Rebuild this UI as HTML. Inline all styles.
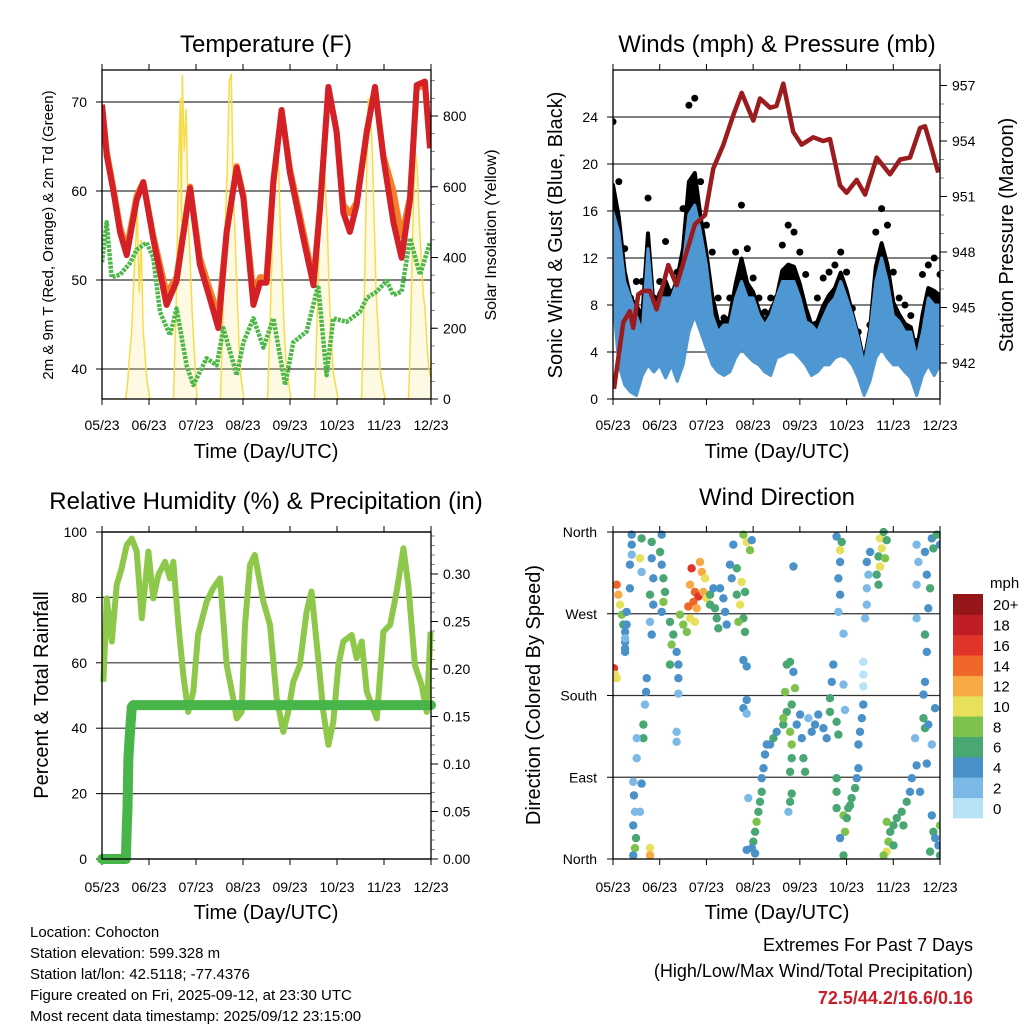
<!DOCTYPE html>
<html><head><meta charset="utf-8">
<style>
body{margin:0;background:#fff;}
svg{display:block;font-family:"Liberation Sans",sans-serif;}
</style></head>
<body>
<svg id="fig" width="1024" height="1024" viewBox="0 0 1024 1024" xmlns="http://www.w3.org/2000/svg"></svg>
<script>
// ---------------- DATA ----------------
const dayLabels = ["05/23","06/23","07/23","08/23","09/23","10/23","11/23","12/23"];
const tempHours = [0,2.4,5.8,9.2,12.6,17.7,21.1,26.2,33,38,45,50,55,59.4,63.7,68.8,72.2,77.3,80.7,84,87.5,91.7,96,102.8,108,111.3,115.6,119.8,123.2,126.6,130,135.2,139.4,143.7,148.8,153,157.3,160.7,164.9,167.5];
const temp2m = [69.7,64,60,55.4,52.8,59,61,54.6,47.2,49.8,60.3,51.7,48,44.6,55.4,62.6,59.2,47.2,49.7,49.7,61,69.1,62,54.7,49.4,58,71.7,66.6,57.6,55.4,58.4,66.6,71.7,63.7,56.5,52.5,59,71.9,72.3,64.8];
const temp9m = [69.7,64.5,60.3,56,53.5,59.5,61,55,48.5,50.3,60.5,52.5,49,46,55.5,62.8,59.5,48.5,50.3,50.3,61.3,69,62.5,55.5,50,58.3,71.5,66.8,58.5,57.5,58.7,66.8,71.5,64,60,55,59.3,71.5,72,65];
const dewHours = [0,2.4,4.9,9.2,14.3,17.7,22.8,26.2,29.6,34.7,38.1,43.2,46.6,53.4,58.6,62,68.8,72.2,77.3,82.4,87.5,93.5,97.7,104.5,110.4,114.7,118.1,124.9,131.7,135.2,140.3,145.4,148.8,153,157.3,162.4,167.5];
const dewPoint = [52,56.5,50.3,50.6,51.9,53.4,54.2,52.5,46.4,43.8,46.8,40.4,38.2,41.2,40.4,44.6,39.3,43,45.7,42.4,45.7,38.2,43,44.2,49.4,39.3,45.7,45.3,46.4,48,48.7,49.9,48.3,48.7,54.7,50.6,54.2];
const solarHours = [0,12,13,14,15,16,17,18,19,20,21,22,23,24.5,36.5,37,38,39,40,40.5,41,42,43,44,45,46,47,48.5,60.5,61,62,63,64,65,66,67,68,69,70,71,72.5,84.5,85,86,87,88,89,90,91,92,93,94,96.5,108.5,109,110,111,112,113,114,115,116,117,118,120.5,132.5,133,134,135,136,137,138,139,140,141,142,144.5,156.5,157,158,159,160,161,162,163,164,165,166,167,168];
const solarValues = [0,0,40,120,180,300,420,530,300,450,200,120,50,0,0,100,300,650,850,500,916,700,820,500,400,250,150,0,0,100,300,500,650,900,920,600,450,300,150,60,0,0,80,250,450,600,720,680,500,350,200,100,0,0,80,250,450,650,750,600,500,300,180,80,0,0,100,300,600,850,820,700,500,300,200,80,0,0,80,300,550,700,650,500,400,300,250,150,80,60];
const windHours = [0,3,6,9,12,15,18,21,24,27,30,33,36,39,42,45,48,51,54,57,60,63,66,69,72,75,78,81,84,87,90,93,96,99,102,105,108,111,114,117,120,123,126,129,132,135,138,141,144,147,150,153,156,159,162,165,168];
const windHigh = [15.9,14.2,10.0,8.6,7.1,5.7,12.8,7.1,8.6,8.6,8.6,10.0,11.4,15.7,16.5,14.2,11.4,7.1,5.7,6.3,6.3,8.6,10.0,8.6,8.6,7.1,6.3,7.1,8.6,10.0,10.0,10.0,8.6,6.6,6.3,5.7,6.9,8.0,8.6,10.0,8.6,7.1,5.2,2.9,5.7,10.0,12.0,10.0,7.1,6.6,5.7,5.7,3.5,5.7,8.6,8.0,8.0];
const windLow = [8.6,2.9,1.2,0.6,0.3,2.0,2.9,2.3,2.9,1.8,2.9,1.5,2.9,5.7,7.1,5.7,4.3,2.9,2.3,2.0,2.3,3.5,4.3,3.7,3.2,2.9,2.3,2.0,3.5,3.7,4.0,4.0,3.5,2.9,2.0,2.3,2.9,2.9,3.5,3.7,3.5,2.9,1.8,0.3,1.5,3.5,4.3,3.5,2.9,2.9,2.3,1.8,0.3,2.0,2.9,2.0,2.9];
const windGust = [23.6,18.5,12.8,8.6,10.0,10.0,17.1,8.6,10.0,13.4,9.1,10.8,16.2,25.0,25.6,18.5,14.8,12.5,8.6,6.9,8.6,12.5,16.5,12.8,10.3,8.6,7.4,8.6,8.6,13.1,14.8,14.2,12.5,10.6,6.3,8.6,10.3,10.8,11.4,12.5,10.8,7.7,5.7,3.7,6.3,14.2,16.2,14.8,10.8,8.6,8.0,7.1,4.9,10.6,11.4,12.0,10.6];
const presHours = [0.5,5.3,8.7,10.4,13,15.6,19,22.4,28.4,32.7,37.8,42.1,47.3,51.5,56.7,61.8,66.1,72.1,75.5,80.7,84,87.5,92.6,96.9,102.9,108,111.5,116.6,120,125.2,129.5,135.5,142.3,147.5,152.6,157.8,160.3,163.7,167.1];
const pressure = [940.6,944.2,944.8,943.9,945.7,945.9,945.9,944.9,947.3,946.2,948,949.5,950,952.5,953.8,955.4,956.6,955.1,956.3,955.8,955.9,957.1,954.5,953.8,954.2,954,954.1,951.6,951.2,951.9,951.1,953.1,952.2,953,953.1,954.7,954.8,953.6,952.3];
const rhHours = [0.7,2.4,5,7.5,10,12.6,15.2,17.7,20.3,23.7,26.2,28.8,32.2,34.7,36.4,39,41.5,44,46.6,49,53.4,56.8,60.3,63.7,67,68.8,71.3,73,75.6,78,82.4,85.8,89.2,92.6,95.1,97.7,101,104.5,107,110.4,113,115.6,118.1,120.7,123.2,127.5,130,132.6,135.2,137.7,140.3,143.7,147.1,150.5,153.9,156.4,159.8,163.2,165.8,167.8];
const rhValues = [54.2,79.7,66.5,83.8,88.9,96,98,94,73.6,94,79.7,86.9,90.9,85.8,90.9,71.6,56.3,45,51.2,68.5,78.7,82.8,85.8,59.3,49.1,43,45,71.6,89.9,93,78.7,71.6,49.1,38.9,45,54.2,59.3,75.6,81.8,61.4,45,34.9,42,59.3,66.5,68.5,61.4,66.5,51.2,47.1,43,69.5,71.6,81.8,95,83.8,59.3,53.2,45,69.5];
const precipHours = [0,12.2,12.6,13,13.5,14.3,15.2,16,168];
const precipValues = [0,0,0.032,0.053,0.106,0.134,0.160,0.162,0.162];
// wind direction observations: [hour, direction deg, speed mph]
const dirObservations = [
[1.9,302,14],[2.7,291,12],[3.6,280,10],[4.5,269,8],[5.3,258,6],[6.2,250,4],[6.2,239,4],[6.2,228,4],[0.5,210,16],[1.0,203,10],[1.9,199,10],
[9.6,357,4],[9.6,346,4],[9.6,335,2],[8.7,324,4],[8.7,298,4],[7.0,272,4],[7.0,258,4],[6.2,243,2],[6.2,232,4],
[10.4,85,2],[10.8,70,4],[11.3,52,2],[10.4,37,4],[11.8,23,6],[11.3,12,8],[10.4,4,4],[14.7,83,4],[13.9,52,2],
[17.3,199,4],[17,184,4],[16.4,170,2],[15.6,148,6],[15.6,133,6],[12.2,133,2],[12.2,111,2],[19,12,10],[19,4,12],
[14.7,353,6],[13.9,331,10],[14.7,316,2],[19.9,349,6],[19.9,331,4],[20.7,309,4],[19,291,6],[20.7,280,4],[19,261,2],[19.9,247,4],
[25,357,4],[24.2,338,6],[25,324,4],[25.9,309,6],[26.7,294,6],[25.9,283,8],[25,272,4],
[29.3,261,6],[31,247,6],[30.1,236,8],[32.7,228,4],[33.6,214,4],[33.6,199,4],[33.6,182,2],[29.3,214,6],[34.4,269,8],[36.1,258,8],[37.9,250,8],[39.6,265,10],
[32.7,140,2],[32.7,129,2],
[40.4,320,16],[44.7,327,12],[45.6,316,12],[47.3,309,10],[39.6,302,12],[42.1,294,14],[43.9,289,16],[41.3,283,14],[38.7,278,14],[46.4,294,12],[48.1,287,10],[43,276,12],[42.1,261,10],[49.9,291,6],[49.9,280,6],
[51.6,298,4],[55,298,4],[56.7,287,4],[57.6,272,4],[53.3,265,6],[54.1,254,6],[58.4,258,4],[52.4,276,6],
[67,357,8],[68.7,349,10],[71.3,351,4],[70.4,340,8],[61.8,346,4],[60.1,324,4],[61,309,4],[63.6,320,6],[66.1,305,10],[67.8,294,6],[65.3,280,10],[67,265,6],[64.4,261,8],[67.8,250,6],[63.6,291,6],
[67,219,4],[68.7,212,4],[68.7,175,4],[67,166,4],[68.7,160,2],
[79,126,4],[78.1,115,4],[77.3,100,4],[76.4,89,4],[76.4,74,6],[75.5,63,6],[74.7,52,6],[73.8,41,8],[73,30,6],[72.1,19,6],[71.3,12,4],[68.7,10,4],[73,6,4],[69.5,67,2],
[80.7,126,4],[82.4,133,6],[84.1,140,4],[87.5,148,6],[89.3,162,6],[88.4,184,8],[89.3,214,6],[91,217,6],[92.7,206,4],[93.5,188,8],[91.8,170,6],[87.5,155,8],[91,140,8],[91.8,126,8],[91.8,111,6],[91,96,6],[94.4,148,4],[96.1,159,4],[97,133,4],[97.8,111,6],[98.7,96,6],[100.4,155,2],[102.1,140,4],[103.8,148,4],[105.5,159,4],[108.1,144,4],[109.8,133,4],[111.5,162,6],[111.5,177,6],[112.4,195,4],[113.2,214,4],[114.9,151,6],[115.8,137,6],[91.8,72,6],[91,63,6],[90.1,52,2],
[114.9,89,6],[114.9,74,6],[114.9,56,6],[118.4,48,8],[119.2,30,8],[116.7,23,4],[118.4,4,6],[120.9,56,6],[122.6,67,6],[124.4,78,6],[125.2,89,4],[126.1,100,4],[120.1,45,6],[121.8,59,6],
[114.9,355,4],[117.5,349,6],[116.7,340,10],[116.7,327,4],[115.8,309,4],[116.7,291,4],[115.8,272,2],[118.4,248,2],[118.4,192,2],[119.2,164,2],
[130.4,327,4],[132.1,338,4],[131.2,313,2],[130.4,298,2],[130.4,280,2],[129.5,265,2],[128.6,217,0],[128.6,203,0],[128.6,190,0],[128.6,170,4],[127.8,155,4],[126.9,140,4],[126.1,126,4],
[137.2,353,10],[138.1,342,10],[136.4,333,6],[139.8,331,8],[137.2,322,10],[135.5,313,6],[136.4,302,6],[140.6,351,6],[139,360,6],
[140.6,41,8],[142.4,30,6],[144.1,37,6],[145.8,45,6],[148.3,52,6],[150.9,63,6],[152.6,74,4],[153.5,89,4],[141.5,19,8],[140.6,8,10],[139,4,8],[144.1,15,6],[149.2,37,6],
[156,346,2],[156.9,327,2],[156,302,2],[160.3,338,4],[161.2,313,4],[163.8,353,4],[164.6,342,6],[162.9,298,6],[162,276,4],[160.3,247,6],[161.2,228,4],[160.3,195,4],[159.5,181,4],[159.5,155,6],[160.3,144,6],[162,148,4],[161.2,105,4],[165.5,166,4],[163.8,126,2],[156,265,2],[155.2,133,2],[156,103,4],[157.8,74,4],[163.8,48,4],[164.6,30,6],[168,37,8],[165.5,23,4],[162.9,8,6],[168,4,6],[167.2,15,4],[168,346,4],[166.3,357,6],[92.7,322,4]
];
const speedLabels = ["0","2","4","6","8","10","12","14","16","18","20+"];
const speedColors = ["#b7e3f7","#7db9e6","#4b91c9","#48a772","#7ec24e","#e6e05a","#f7a945","#f06528","#e0342a","#bf1e25","#961518"];
const infoLines = ["Location: Cohocton","Station elevation: 599.328 m","Station lat/lon: 42.5118; -77.4376","Figure created on Fri, 2025-09-12, at 23:30 UTC","Most recent data timestamp: 2025/09/12 23:15:00"];

// ---------------- HELPERS ----------------
const NS = "http://www.w3.org/2000/svg";
const svg = document.getElementById("fig");
function mk(tag, attrs, parent){
  const e = document.createElementNS(NS, tag);
  for (const k in attrs) e.setAttribute(k, attrs[k]);
  (parent || svg).appendChild(e);
  return e;
}
function txt(str, x, y, size, anchor, parent, extra){
  const t = mk("text", Object.assign({x:x, y:y, "font-size":size, "text-anchor":anchor||"middle", fill:"#000"}, extra||{}), parent);
  t.textContent = str;
  return t;
}
function pts(xs, ys, fx, fy){ return xs.map((h,i)=>fx(h).toFixed(1)+","+fy(ys[i]).toFixed(1)).join(" "); }

const P1 = {x0:102, x1:431, y0:70, y1:399};
const P2 = {x0:613, x1:940, y0:70, y1:399};
const P3 = {x0:102, x1:431, y0:532, y1:859};
const P4 = {x0:613, x1:940, y0:532, y1:859};
function xScale(P){ return h => P.x0 + h/168*(P.x1-P.x0); }

function frame(P, name, xTickY){
  const g = mk("g", {});
  
  
  const fx = xScale(P);
  dayLabels.forEach((lab,i)=>{
    const x = fx(i*24);
    mk("line",{x1:x,y1:P.y1,x2:x,y2:P.y1+6,stroke:"#000","stroke-width":1},g);
    mk("line",{x1:x,y1:P.y0,x2:x,y2:P.y0-6,stroke:"#000","stroke-width":1},g);
    const t = txt(lab, x, xTickY, 14, "middle", g);
    
    
  });
  return g;
}
function border(P, g){
  mk("rect",{x:P.x0,y:P.y0,width:P.x1-P.x0,height:P.y1-P.y0,fill:"none",stroke:"#000","stroke-width":1.3},g);
}
function leftAxis(P, g, vals, labels, fy, grid, labelX){
  vals.forEach((v,i)=>{
    const y = fy(v);
    mk("line",{x1:P.x0-6,y1:y,x2:P.x0,y2:y,stroke:"#000","stroke-width":1},g);
    if (grid) mk("line",{x1:P.x0,y1:y,x2:P.x1,y2:y,stroke:"#333","stroke-width":1.2},g);
    const t = txt(labels[i], labelX, y+5, 14, "end", g);
    
    
  });
}
function rightAxis(P, g, vals, labels, fy, labelX, minorStep, lo, hi){
  if (minorStep){
    for (let v=lo; v<=hi+1e-9; v+=minorStep){
      const y = fy(v); if (y<P.y0||y>P.y1) continue;
      mk("line",{x1:P.x1,y1:y,x2:P.x1+4,y2:y,stroke:"#666","stroke-width":0.8},g);
    }
  }
  vals.forEach((v,i)=>{
    const y = fy(v);
    mk("line",{x1:P.x1,y1:y,x2:P.x1+7,y2:y,stroke:"#000","stroke-width":1},g);
    const t = txt(labels[i], labelX, y+5, 14, "start", g);
    
    
  });
}
function title(str, x, y, size, name, rot){
  const attrs = rot ? {transform:"rotate(-90 "+x+" "+y+")"} : {};
  const t = txt(str, x, y, size, "middle", svg, attrs);
  
  
}

// ---------------- PANEL 1: TEMPERATURE ----------------
(function(){
  const P = P1, fx = xScale(P);
  const yT = t => 102 + (70 - t)*8.9;
  const yS = w => 399 - w*0.35375;
  const g = frame(P, "temperature-panel", 430);
  const clip = mk("clipPath",{id:"c1"}); mk("rect",{x:P.x0,y:P.y0,width:P.x1-P.x0,height:P.y1-P.y0},clip);
  leftAxis(P, g, [40,50,60,70], ["40","50","60","70"], yT, true, 87);
  rightAxis(P, g, [0,200,400,600,800], ["0","200","400","600","800"], yS, 443, 50, 0, 900);
  const d = mk("g",{"clip-path":"url(#c1)"},g);
  const solarPts = pts(solarHours, solarValues, fx, yS);
  const sf = mk("polygon",{points:fx(0)+","+yS(0)+" "+solarPts+" "+fx(168)+","+yS(0),fill:"#fbe98a","fill-opacity":0.25,stroke:"none"},d);
  
  
  const sl = mk("polyline",{points:solarPts,fill:"none",stroke:"#f7dc4a","stroke-width":1.5},d);
  
  
  const dl = mk("polyline",{points:pts(dewHours,dewPoint,fx,yT),fill:"none",stroke:"#4db848","stroke-width":4.5,"stroke-dasharray":"3,1.2","stroke-linejoin":"round"},d);
  
  
  const ol = mk("polyline",{points:pts(tempHours,temp9m,fx,yT),fill:"none",stroke:"#f47e2a","stroke-width":6,"stroke-linejoin":"round"},d);
  
  
  const rl = mk("polyline",{points:pts(tempHours,temp2m,fx,yT),fill:"none",stroke:"#d42027","stroke-width":6,"stroke-linejoin":"round"},d);
  
  
  border(P, g);
  title("Temperature (F)", 266, 52, 24, "temperature-title");
  title("2m & 9m T (Red, Orange) & 2m Td (Green)", 53, 235, 15, "temperature-y-axis-title", true);
  title("Solar Insolation (Yellow)", 496, 235, 16, "solar-y-axis-title", true);
  title("Time (Day/UTC)", 266, 458, 20, "temperature-x-axis-title");
})();

// ---------------- PANEL 2: WINDS ----------------
(function(){
  const P = P2, fx = xScale(P);
  const yW = s => 399 - s*11.75;
  const yP = p => 363 - (p-942)*18.5;
  const g = frame(P, "winds-panel", 430);
  const clip = mk("clipPath",{id:"c2"}); mk("rect",{x:P.x0,y:P.y0,width:P.x1-P.x0,height:P.y1-P.y0},clip);
  leftAxis(P, g, [0,4,8,12,16,20,24], ["0","4","8","12","16","20","24"], yW, false, 598);
  [4,8,12,16,20,24].forEach(v=>mk("line",{x1:P.x0,y1:yW(v),x2:P.x1,y2:yW(v),stroke:"#333","stroke-width":1.2},g));
  rightAxis(P, g, [942,945,948,951,954,957], ["942","945","948","951","954","957"], yP, 952, 1, 940, 959);
  const d = mk("g",{"clip-path":"url(#c2)"},g);
  const mid = windGust.map((v,i)=>windHigh[i] + (v-windHigh[i])*0.3);
  const band = pts(windHours, windHigh, fx, yW) + " " + pts(windHours.slice().reverse(), mid.slice().reverse(), fx, yW);
  const gb = mk("polygon",{points:band,fill:"#000",stroke:"#000","stroke-width":4,"stroke-linejoin":"round"},d);
  
  
  windHours.forEach((h,i)=>{
    const c = mk("circle",{cx:fx(h),cy:yW(windGust[i]),r:3.5,fill:"#000"},d);
    
    
  });
  const wb = pts(windHours, windHigh, fx, yW) + " " + pts(windHours.slice().reverse(), windLow.slice().reverse(), fx, yW);
  const wp = mk("polygon",{points:wb,fill:"#4f97d3",stroke:"#4f97d3","stroke-width":3,"stroke-linejoin":"round"},d);
  
  
  const pl = mk("polyline",{points:pts(presHours,pressure,fx,yP),fill:"none",stroke:"#9b1b1e","stroke-width":4.5,"stroke-linejoin":"round"},d);
  
  
  border(P, g);
  title("Winds (mph) & Pressure (mb)", 777, 52, 24, "winds-title");
  title("Sonic Wind & Gust (Blue, Black)", 562, 235, 20, "wind-y-axis-title", true);
  title("Station Pressure (Maroon)", 1013, 235, 20, "pressure-y-axis-title", true);
  title("Time (Day/UTC)", 777, 458, 20, "winds-x-axis-title");
})();

// ---------------- PANEL 3: RH & PRECIP ----------------
(function(){
  const P = P3, fx = xScale(P);
  const yR = r => 859 - r*3.27;
  const yPr = p => 859 - p*950;
  const g = frame(P, "humidity-panel", 892);
  const clip = mk("clipPath",{id:"c3"}); mk("rect",{x:P.x0-6,y:P.y0,width:P.x1-P.x0+12,height:P.y1-P.y0+6},clip);
  leftAxis(P, g, [0,20,40,60,80,100], ["0","20","40","60","80","100"], yR, true, 87);
  rightAxis(P, g, [0,0.05,0.10,0.15,0.20,0.25,0.30], ["0.00","0.05","0.10","0.15","0.20","0.25","0.30"], yPr, 443, 0.01, 0, 0.345);
  const d = mk("g",{"clip-path":"url(#c3)"},g);
  const rl = mk("polyline",{points:pts(rhHours,rhValues,fx,yR),fill:"none",stroke:"#8dc84b","stroke-width":6,"stroke-linejoin":"round"},d);
  
  
  const pl = mk("polyline",{points:pts(precipHours,precipValues,fx,yPr),fill:"none",stroke:"#47b549","stroke-width":10,"stroke-linejoin":"round","stroke-linecap":"round"},d);
  
  
  border(P, g);
  title("Relative Humidity (%) & Precipitation (in)", 266, 509, 24, "humidity-title");
  title("Percent & Total Rainfall", 48, 695, 20, "humidity-y-axis-title", true);
  title("Time (Day/UTC)", 266, 919, 20, "humidity-x-axis-title");
})();

// ---------------- PANEL 4: WIND DIRECTION ----------------
(function(){
  const P = P4, fx = xScale(P);
  const yD = d => 859 - d*327/360;
  const g = frame(P, "wind-direction-panel", 892);
  leftAxis(P, g, [0,90,180,270,360], ["North","East","South","West","North"], yD, false, 597);
  [90,180,270].forEach(v=>mk("line",{x1:P.x0,y1:yD(v),x2:P.x1,y2:yD(v),stroke:"#333","stroke-width":1.2},g));
  const clip = mk("clipPath",{id:"c4"}); mk("rect",{x:P.x0,y:P.y0-4,width:P.x1-P.x0,height:P.y1-P.y0+8},clip);
  const d = mk("g",{"clip-path":"url(#c4)"},g);
  dirObservations.forEach(o=>{
    const idx = Math.min(10, Math.floor(o[2]/2));
    const c = mk("circle",{cx:fx(o[0]).toFixed(1),cy:yD(o[1]).toFixed(1),r:4.2,fill:speedColors[idx]},d);
    
    
  });
  border(P, g);
  const cb = mk("g",{});
  
  
  const bh = 224/11;
  speedLabels.forEach((lab,i)=>{
    const y = 818 - (i+1)*bh;
    const r = mk("rect",{x:953,y:y.toFixed(1),width:30,height:(bh+0.4).toFixed(1),fill:speedColors[i]},cb);
    
    
    const t = txt(lab, 993, y+bh/2+6, 15, "start", cb);
    
    
  });
  const mu = txt("mph", 990, 588, 15, "start", cb);
  
  
  title("Wind Direction", 777, 505, 24, "wind-direction-title");
  title("Direction (Colored By Speed)", 540, 695, 20, "direction-y-axis-title", true);
  title("Time (Day/UTC)", 777, 919, 20, "direction-x-axis-title");
})();

// ---------------- FOOTER TEXT ----------------
(function(){
  const g = mk("g",{});
  
  
  infoLines.forEach((s,i)=>{
    const t = txt(s, 30, 937 + i*21, 15, "start", g);
    
    
  });
  const e = mk("g",{});
  
  
  const t1 = txt("Extremes For Past 7 Days", 973, 951, 18, "end", e);
  
  
  const t2 = txt("(High/Low/Max Wind/Total Precipitation)", 973, 977, 18, "end", e);
  
  
  const t3 = txt("72.5/44.2/16.6/0.16", 973, 1004, 18, "end", e, {fill:"#c8202a","font-weight":"bold"});
  
  
})();
</script>
</body></html>
